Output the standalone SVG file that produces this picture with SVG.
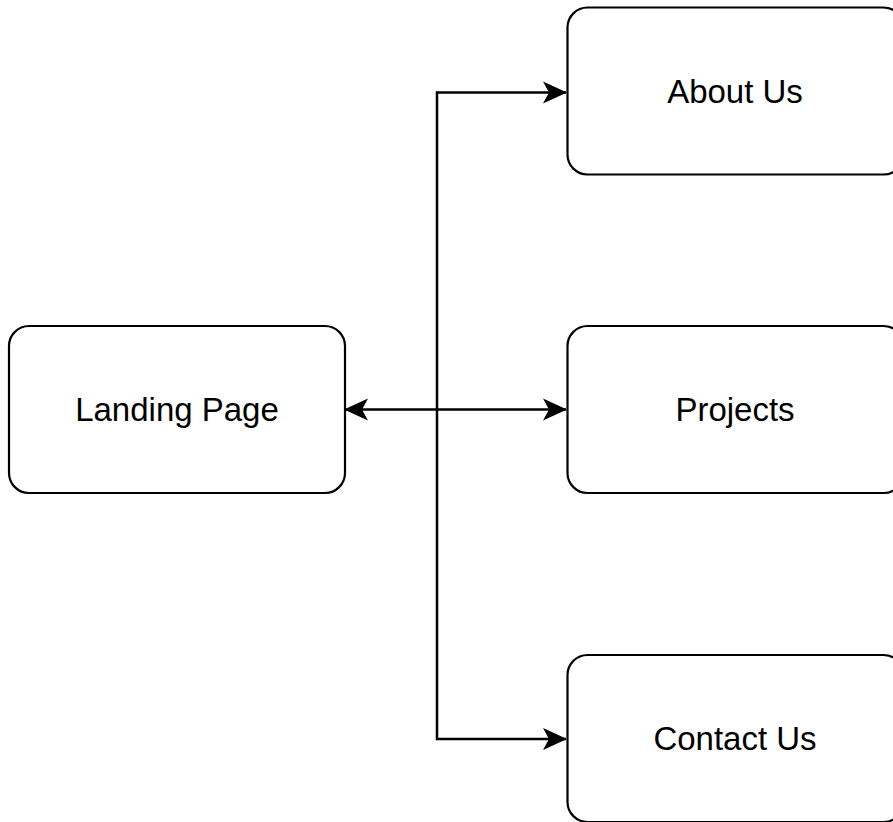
<svg xmlns="http://www.w3.org/2000/svg" width="893" height="822" viewBox="0 0 893 822">
<style>
.box{fill:#fff;stroke:#000;stroke-width:2.2}
.lbl{font-family:"Liberation Sans",Arial,sans-serif;font-size:33px;fill:#000;text-anchor:middle}
.edge{fill:none;stroke:#000;stroke-width:2.5}
</style>
<defs>
<marker id="arr" markerUnits="userSpaceOnUse" viewBox="0 0 24 24" refX="23" refY="12" markerWidth="24" markerHeight="24" orient="auto-start-reverse">
<path d="M24,12 L0,1 L6,12 L0,23 Z" fill="#000"/>
</marker>
</defs>
<rect width="893" height="822" fill="#fff"/>
<g id="connectors">
<path class="edge" d="M345,409.5 L566,409.5" marker-start="url(#arr)" marker-end="url(#arr)"/>
<path class="edge" d="M437,409.5 L437,92.5 L566,92.5" marker-end="url(#arr)"/>
<path class="edge" d="M437,409.5 L437,739 L566,739" marker-end="url(#arr)"/>
</g>
<g id="landing">
<rect class="box" x="9" y="326" width="336" height="167" rx="20"/>
<text class="lbl" x="177" y="421">Landing Page</text>
</g>
<g id="about">
<rect class="box" x="567.5" y="7.5" width="336" height="167" rx="20"/>
<text class="lbl" x="735" y="103">About Us</text>
</g>
<g id="projects">
<rect class="box" x="567.5" y="326" width="336" height="167" rx="20"/>
<text class="lbl" x="735" y="421">Projects</text>
</g>
<g id="contact">
<rect class="box" x="567.5" y="655" width="336" height="167" rx="20"/>
<text class="lbl" x="735" y="750">Contact Us</text>
</g>
</svg>
